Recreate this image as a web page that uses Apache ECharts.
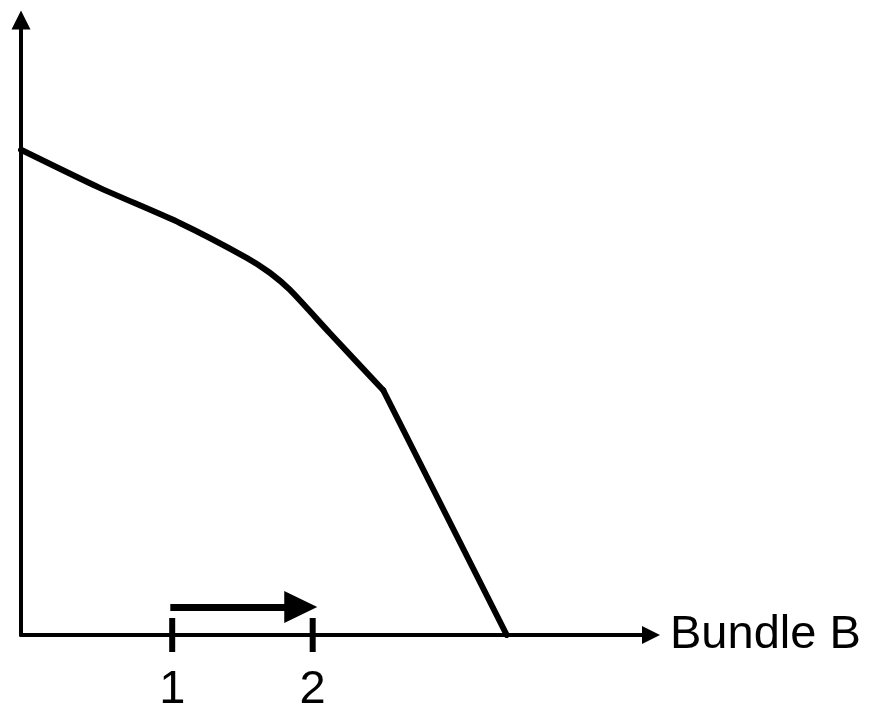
<!DOCTYPE html>
<html>
<head>
<meta charset="utf-8">
<script src="https://cdn.jsdelivr.net/npm/echarts@6/dist/echarts.min.js"></script>
<style>
  html, body { margin: 0; padding: 0; background: #fff; }
  #chart { width: 873px; height: 705px; }
</style>
</head>
<body>
<div id="chart"></div>
<script>
// frontier (arbitrary 0-100 units)
// curved part, up to the kink
var curveX = [0, 12.5, 25.2, 35.9, 39.5, 42.7, 49.0, 57.5];
var curveY = [78.9, 72.7, 67.0, 61.3, 58.9, 56.1, 49.1, 39.8];
// straight part, kink down to the axis
var steepX = [57.5, 77.1];
var steepY = [39.8, 0];

// tick marks on the Bundle B axis
var tickX = [24.0, 46.3];
var tickLabels = ["1", "2"];

// shift arrow above the axis
var shiftFrom = 23.7;
var shiftTo = 44.4;
var shiftY = 4.55;

var chart = echarts.init(document.getElementById("chart"));
var fontFamily = "Liberation Sans, Arial, sans-serif";

function pairs(xs, ys) {
  return xs.map(function (x, i) { return [x, ys[i]]; });
}

var lineStyle = { color: "#000", width: 6, join: "round", cap: "round" };

chart.setOption({
  animation: false,
  backgroundColor: "#fff",
  grid: { left: 21, right: 222, top: 20, bottom: 70 },
  xAxis: {
    type: "value",
    min: 0,
    max: 100,
    name: "Bundle B",
    nameLocation: "end",
    nameGap: 19,
    nameTextStyle: { color: "#000", fontSize: 47, fontFamily: fontFamily },
    axisLine: {
      show: true,
      symbol: ["none", "triangle"],
      symbolSize: [18, 18],
      lineStyle: { color: "#000", width: 4 }
    },
    axisTick: { show: false },
    axisLabel: { show: false },
    splitLine: { show: false }
  },
  yAxis: {
    type: "value",
    min: 0,
    max: 100,
    axisLine: {
      show: true,
      symbol: ["none", "triangle"],
      symbolSize: [19, 19],
      lineStyle: { color: "#000", width: 4 }
    },
    axisTick: { show: false },
    axisLabel: { show: false },
    splitLine: { show: false }
  },
  series: [
    {
      type: "line",
      data: pairs(curveX, curveY),
      showSymbol: false,
      smooth: 0.2,
      lineStyle: lineStyle
    },
    {
      type: "line",
      data: pairs(steepX, steepY),
      showSymbol: false,
      lineStyle: lineStyle
    },
    {
      type: "scatter",
      clip: false,
      data: tickX.map(function (x) { return [x, 0]; }),
      symbol: "rect",
      symbolSize: [6, 34],
      itemStyle: { color: "#000", opacity: 1 },
      label: {
        show: true,
        position: "bottom",
        distance: 15,
        color: "#000",
        fontSize: 47,
        fontFamily: fontFamily,
        formatter: function (p) { return tickLabels[p.dataIndex]; }
      },
      markLine: {
        silent: true,
        symbol: ["none", "triangle"],
        symbolSize: [32, 33],
        label: { show: false },
        lineStyle: { color: "#000", width: 7, type: "solid", opacity: 1 },
        data: [[
          { coord: [shiftFrom, shiftY], symbol: "none" },
          { coord: [shiftTo, shiftY], symbol: "triangle" }
        ]]
      }
    }
  ]
});
</script>
</body>
</html>
